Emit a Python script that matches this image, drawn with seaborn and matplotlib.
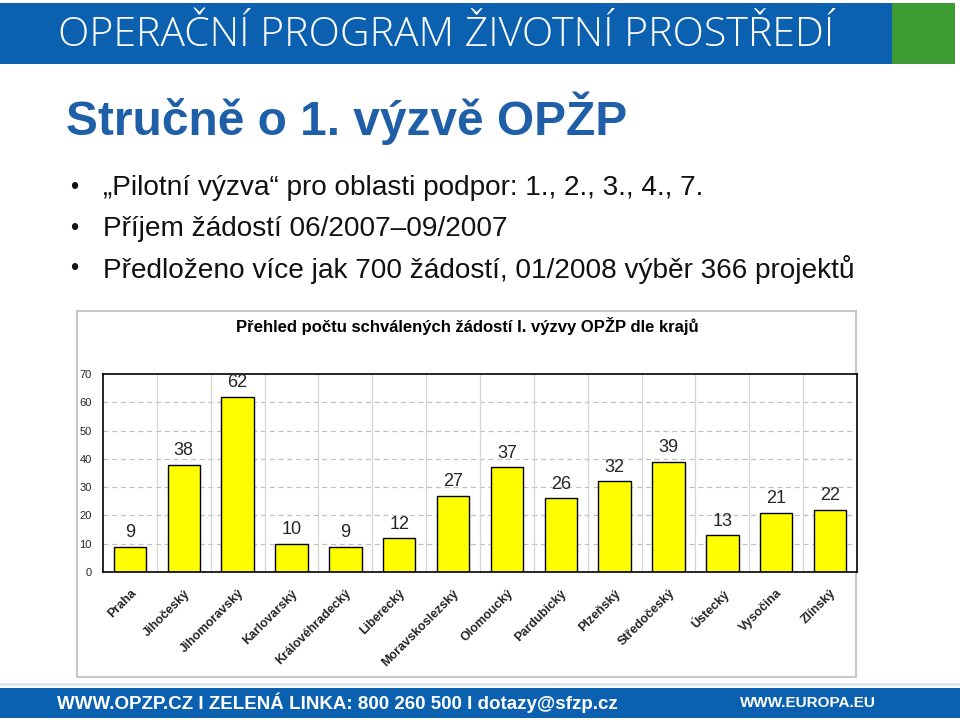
import matplotlib
matplotlib.use("Agg")
import matplotlib.pyplot as plt
import seaborn as sns
import pandas as pd
from matplotlib.patches import Rectangle

# data
kraje = ['Praha', 'Jihočeský', 'Jihomoravský', 'Karlovarský', 'Královéhradecký',
         'Liberecký', 'Moravskoslezský', 'Olomoucký', 'Pardubický', 'Plzeňský',
         'Středočeský', 'Ústecký', 'Vysočina', 'Zlínský']
pocty = [9, 38, 62, 10, 9, 12, 27, 37, 26, 32, 39, 13, 21, 22]
y_ticks = [0, 10, 20, 30, 40, 50, 60, 70]

slide_title = 'Stručně o 1. výzvě OPŽP'
bullets = ['„Pilotní výzva“ pro oblasti podpor: 1., 2., 3., 4., 7.',
           'Příjem žádostí 06/2007–09/2007',
           'Předloženo více jak 700 žádostí, 01/2008 výběr 366 projektů']
chart_title = 'Přehled počtu schválených žádostí I. výzvy OPŽP dle krajů'

df = pd.DataFrame({'kraj': kraje, 'pocet': pocty})

sns.set_theme(style='white')
plt.rcParams['font.family'] = ['Liberation Sans', 'DejaVu Sans']

W, H = 960, 720
fig = plt.figure(figsize=(W / 100, H / 100), dpi=100)
fig.patch.set_facecolor('white')


def px(x, y):
    # pixel coords (from top-left) -> figure fraction
    return x / W, 1 - y / H


def box(x0, y0, x1, y1, **kw):
    fig.patches.append(Rectangle((x0 / W, 1 - y1 / H), (x1 - x0) / W, (y1 - y0) / H,
                                 transform=fig.transFigure, **kw))


# header
box(0, 3, 892, 64, facecolor='#0B61B0', edgecolor='none')
box(892, 3, 955, 64, facecolor='#3C9B32', edgecolor='none')
fig.text(*px(58, 36), 'OPERAČNÍ PROGRAM ŽIVOTNÍ PROSTŘEDÍ', color='white',
         fontsize=29.5, fontweight='light', family=['Open Sans', 'DejaVu Sans'],
         va='center', ha='left')

# footer
box(0, 683, 960, 686, facecolor='#DCE6F0', edgecolor='none')
box(0, 688, 960, 718, facecolor='#0B61B0', edgecolor='none')
fig.text(*px(57, 703), 'WWW.OPZP.CZ I ZELENÁ LINKA: 800 260 500 I dotazy@sfzp.cz',
         color='white', fontsize=13.5, fontweight='bold', va='center', ha='left')
fig.text(*px(740, 703), 'WWW.EUROPA.EU', color='white', fontsize=11,
         fontweight='bold', va='center', ha='left')

# slide title and bullets
fig.text(*px(66, 118), slide_title, color='#1F5FA8', fontsize=34.5,
         fontweight='bold', va='center', ha='left')
for i, b in enumerate(bullets):
    yy = 188 + i * 40.5
    fig.text(*px(70, yy), '•', color='#111111', fontsize=17, va='center', ha='left')
    fig.text(*px(103, yy), b, color='#111111', fontsize=20.2, va='center', ha='left')

# chart frame
box(77, 311, 856, 677, facecolor='white', edgecolor='#C8C8C8', linewidth=1.5,
    zorder=0)
fig.text(*px(467, 326), chart_title, color='black', fontsize=12,
         fontweight='bold', va='center', ha='center')

ax = fig.add_axes([103 / W, 1 - 572 / H, 754 / W, 198 / H])
ax.set_zorder(3)
ax.set_facecolor('white')
sns.barplot(data=df, x='kraj', y='pocet', color='#FFFF00', edgecolor='black',
            linewidth=1, width=0.6, saturation=1, ax=ax)
ax.set_ylim(0, 70)
ax.set_xlim(-0.5, len(kraje) - 0.5)
ax.set_yticks(y_ticks)
ax.set_yticklabels([str(t) for t in y_ticks], fontsize=8)
ax.tick_params(axis='y', length=0, pad=8)
ax.tick_params(axis='x', length=0, pad=11)
ax.set_xticks(range(len(kraje)))
ax.set_xticklabels(kraje, rotation=45, ha='right', rotation_mode='anchor',
                   fontsize=9, fontweight='bold')
ax.set_xlabel('')
ax.set_ylabel('')

for t in y_ticks[1:-1]:
    ax.axhline(t, color='#C0C0C0', linestyle=(0, (4, 3)), linewidth=0.9, zorder=0)
for k in range(1, len(kraje)):
    ax.axvline(k - 0.5, color='#D5D5D5', linewidth=0.9, zorder=0)
ax.set_axisbelow(True)

for c in ax.containers:
    ax.bar_label(c, fmt='%d', padding=4, fontsize=13)

for s in ax.spines.values():
    s.set_visible(True)
    s.set_color('black')
    s.set_linewidth(1.2)

fig.savefig('out.png', dpi=100, facecolor='white')
